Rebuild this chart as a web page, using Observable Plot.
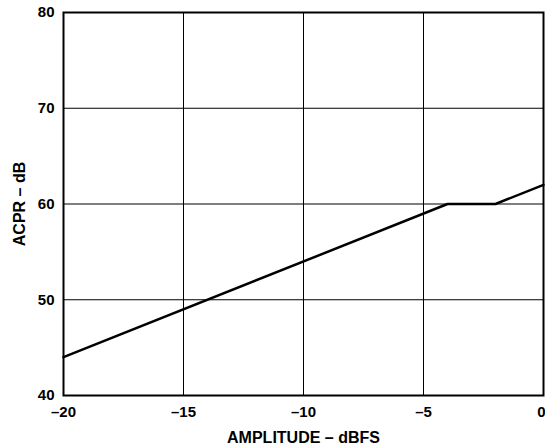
<!DOCTYPE html>
<html><head><meta charset="utf-8">
<script src="https://cdn.jsdelivr.net/npm/d3@7"></script>
<script src="https://cdn.jsdelivr.net/npm/@observablehq/plot@0.6"></script>
<style>
html,body{margin:0;padding:0;background:#fff;}
svg{font-family:"Liberation Sans",Arial,sans-serif;}
</style>
</head><body>
<div id="chart"></div>
<script>
const amplitude = [-20, -4, -2, 0];
const acpr = [44, 60, 60, 62];
const xTicks = [-20, -15, -10, -5, 0];
const yTicks = [40, 50, 60, 70, 80];
const xTitle = "AMPLITUDE \u2013 dBFS";
const yTitle = "ACPR \u2013 dB";
const data = amplitude.map((x, i) => ({x, y: acpr[i]}));
const fmt = d => d < 0 ? "\u2013" + Math.abs(d) : String(d);
const chart = Plot.plot({
  width: 545, height: 444,
  marginLeft: 63, marginRight: 2, marginTop: 12, marginBottom: 49,
  style: {fontFamily: "Liberation Sans, Arial, sans-serif", fontSize: "15px", fontWeight: "bold", color: "#000", background: "#fff", overflow: "visible"},
  x: {domain: [-20, 0], ticks: xTicks, tickFormat: fmt, label: null},
  y: {domain: [40, 80], ticks: yTicks, label: null},
  marks: [
    Plot.gridX(xTicks, {stroke: "#000", strokeOpacity: 1, strokeWidth: 1}),
    Plot.gridY(yTicks, {stroke: "#000", strokeOpacity: 1, strokeWidth: 1}),
    Plot.frame({stroke: "#000", strokeWidth: 2}),
    Plot.axisX(xTicks.filter(d => d < 0), {tickSize: 0, tickPadding: 11, tickFormat: fmt, label: null, fontSize: 15, fontWeight: "bold"}),
    Plot.text(xTicks.filter(d => d === 0), {x: d => d, frameAnchor: "bottom", lineAnchor: "top", textAnchor: "end", dy: 11, dx: 2, text: fmt, fontSize: 15, fontWeight: "bold", fill: "#000"}),
    Plot.text([xTitle], {frameAnchor: "bottom", textAnchor: "middle", lineAnchor: "bottom", dy: 47, text: d => d, fontSize: 16, fontWeight: "bold", fill: "#000"}),
    Plot.axisY(yTicks, {tickSize: 0, tickPadding: 9, label: null, fontSize: 15, fontWeight: "bold"}),
    Plot.text([yTitle], {frameAnchor: "left", textAnchor: "middle", lineAnchor: "middle", dx: -44, rotate: -90, text: d => d, fontSize: 16, fontWeight: "bold", fill: "#000"}),
    Plot.line(data, {x: "x", y: "y", stroke: "#000", strokeWidth: 2.5})
  ]
});
document.getElementById("chart").appendChild(chart);
</script>
</body></html>
